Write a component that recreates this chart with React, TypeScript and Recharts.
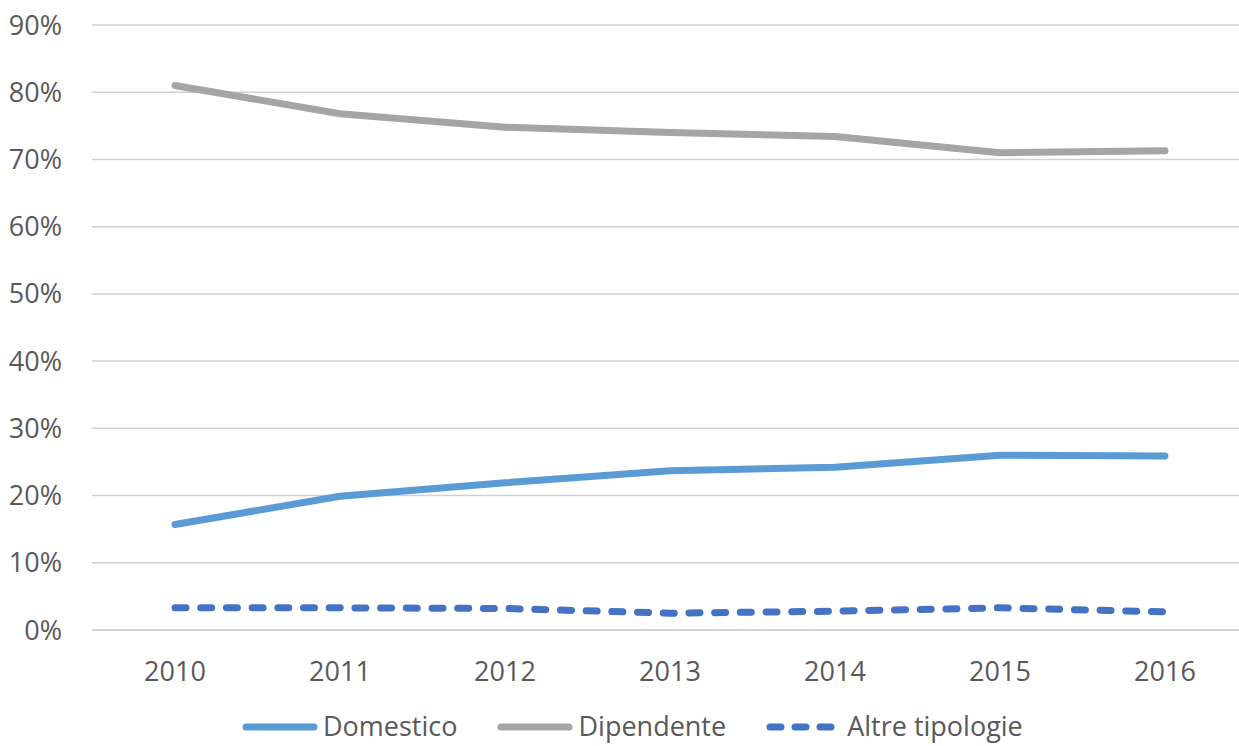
import { LineChart, Line, XAxis, YAxis, CartesianGrid } from 'recharts';

const years = ['2010', '2011', '2012', '2013', '2014', '2015', '2016'];
const domestico = [15.7, 19.9, 21.9, 23.7, 24.2, 26.0, 25.9];
const dipendente = [81.0, 76.8, 74.8, 74.0, 73.4, 71.0, 71.3];
const altre = [3.3, 3.3, 3.2, 2.5, 2.8, 3.3, 2.7];
const yTicks = [0, 10, 20, 30, 40, 50, 60, 70, 80, 90];

const series = [
  { key: 'domestico', name: 'Domestico', color: '#5B9BD5', dash: undefined as string | undefined },
  { key: 'dipendente', name: 'Dipendente', color: '#A5A5A5', dash: undefined as string | undefined },
  { key: 'altre', name: 'Altre tipologie', color: '#4472C4', dash: '11 14.7' },
];

const data = years.map((year, i) => ({
  year,
  domestico: domestico[i],
  dipendente: dipendente[i],
  altre: altre[i],
}));

const font = '"Open Sans", sans-serif';
const textColor = '#595959';

function ChartLegend() {
  return (
    <div
      style={{
        position: 'absolute',
        top: 712,
        left: 242,
        height: 27,
        display: 'flex',
        alignItems: 'center',
        fontFamily: font,
        fontSize: 27,
        lineHeight: '27px',
        color: textColor,
        whiteSpace: 'nowrap',
      }}
    >
      {series.map((s) => (
        <div key={s.key} style={{ display: 'flex', alignItems: 'center', marginRight: 40 }}>
          <svg width={76} height={14} style={{ marginRight: 5, marginTop: 3 }}>
            <line
              x1={4}
              y1={7}
              x2={72}
              y2={7}
              stroke={s.color}
              strokeWidth={7}
              strokeLinecap="round"
              strokeDasharray={s.dash ? '11 14' : undefined}
            />
          </svg>
          <span>{s.name}</span>
        </div>
      ))}
    </div>
  );
}

export default function App() {
  return (
    <div
      style={{
        position: 'fixed',
        top: 0,
        left: 0,
        width: 1239,
        height: 746,
        overflow: 'hidden',
        background: '#fff',
      }}
    >
      <LineChart
        width={1250}
        height={746}
        data={data}
        margin={{ top: 25, right: 2, left: 0, bottom: 56 }}
      >
        <CartesianGrid vertical={false} stroke="#d0d0d0" strokeWidth={1.5} />
        <XAxis
          dataKey="year"
          padding={{ left: 83, right: 83 }}
          axisLine={{ stroke: '#d0d0d0', strokeWidth: 1.5 }}
          tickLine={false}
          tickSize={0}
          tickMargin={32}
          height={60}
          tick={{ fill: textColor, fontSize: 27, fontFamily: font }}
        />
        <YAxis
          domain={[0, 90]}
          ticks={yTicks}
          width={92}
          axisLine={false}
          tickLine={false}
          tickSize={0}
          tickMargin={30}
          tickFormatter={(v: number) => `${v}%`}
          tick={{ fill: textColor, fontSize: 27, fontFamily: font }}
        />
        {series.map((s) => (
          <Line
            key={s.key}
            type="linear"
            dataKey={s.key}
            name={s.name}
            stroke={s.color}
            strokeWidth={7}
            strokeLinecap="round"
            strokeLinejoin="round"
            strokeDasharray={s.dash}
            dot={false}
            activeDot={false}
            isAnimationActive={false}
          />
        ))}
      </LineChart>
      <ChartLegend />
    </div>
  );
}
